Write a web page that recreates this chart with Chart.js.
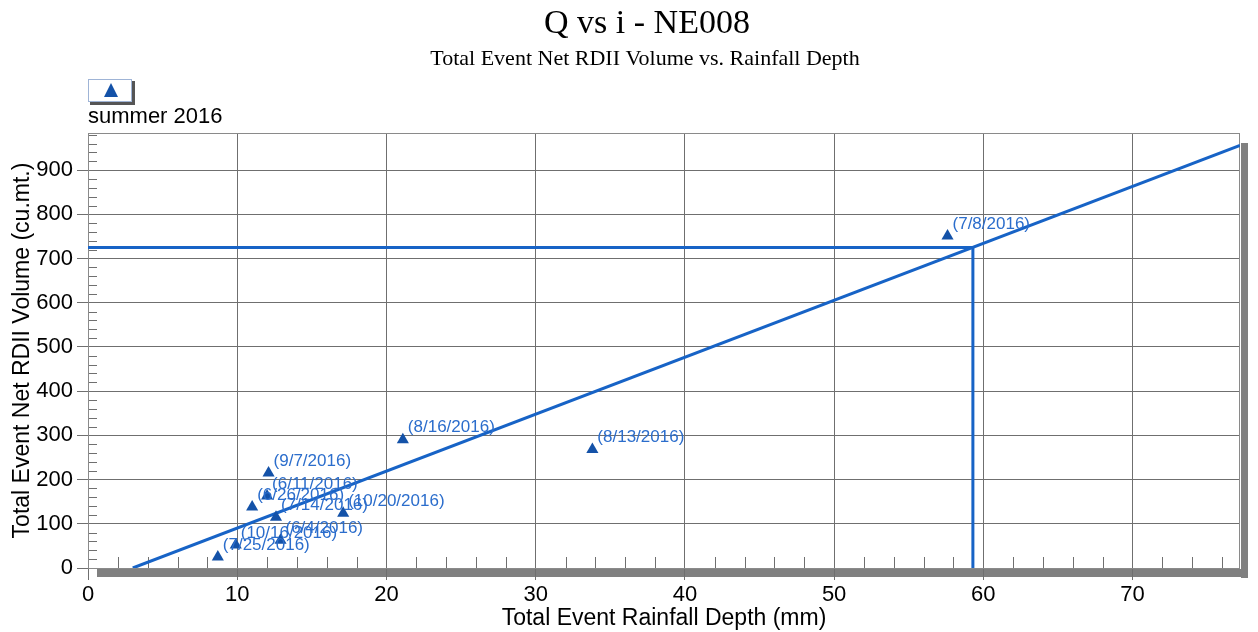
<!DOCTYPE html>
<html>
<head>
<meta charset="utf-8">
<script src="https://cdn.jsdelivr.net/npm/chart.js@4"></script>
<style>
    html, body { margin: 0; padding: 0; background: #fff; }
    #wrap { width: 1258px; height: 632px; }
</style>
</head>
<body>
<div id="wrap"><canvas id="chart1" width="1258" height="632"></canvas></div>
<script>
// event data
const eventLabels = ["(7/8/2016)", "(8/16/2016)", "(8/13/2016)", "(9/7/2016)", "(6/11/2016)", "(6/26/2016)",
    "(7/14/2016)", "(10/20/2016)", "(6/4/2016)", "(10/16/2016)", "(7/25/2016)"];
const rainfallDepth = [57.6, 21.1, 33.8, 12.1, 12.0, 11.0, 12.6, 17.1, 12.9, 9.9, 8.7];
const netVolume = [751, 290, 268, 215, 163, 138, 115, 124, 63, 52, 25];

// fitted line and design point
const fitX = [3.0, 77.2];
const fitY = [0, 956];
const designDepth = 59.3;
const designVolume = 725;

const xTicks = [0, 10, 20, 30, 40, 50, 60, 70];
const yTicks = [0, 100, 200, 300, 400, 500, 600, 700, 800, 900];

const blue = "#1763c6";
const markerBlue = "#1452a8";
const labelBlue = "#2b6dcc";
const gridGray = "#6f6f6f";

const sans = "'Liberation Sans', Arial, sans-serif";
const serif = "'Liberation Serif', 'Times New Roman', serif";

const decorPlugin = {
    id: "decor",
    beforeDraw(chart) {
        const ctx = chart.ctx;
        const a = chart.chartArea;
        ctx.save();
        // drop shadow of the plot frame
        ctx.fillStyle = "#808080";
        ctx.fillRect(a.left + 9, a.bottom + 1, a.right - a.left - 1, 8);
        ctx.fillRect(a.right + 1, a.top + 10, 7, a.bottom - a.top);
        ctx.restore();
    },
    beforeDatasetsDraw(chart) {
        const ctx = chart.ctx;
        const a = chart.chartArea;
        const xs = chart.scales.x, ys = chart.scales.y;
        ctx.save();
        ctx.strokeStyle = gridGray;
        ctx.lineWidth = 1;
        ctx.beginPath();
        for (let v = 2; v < xs.max; v += 2) {
            if (v % 10 === 0) continue;
            const px = Math.round(xs.getPixelForValue(v)) + 0.5;
            ctx.moveTo(px, a.bottom);
            ctx.lineTo(px, a.bottom - 11);
        }
        for (let v = 20; v < ys.max; v += 20) {
            if (v % 100 === 0) continue;
            const py = Math.round(ys.getPixelForValue(v)) + 0.5;
            ctx.moveTo(a.left, py);
            ctx.lineTo(a.left + 9, py);
        }
        ctx.stroke();
        // frame
        ctx.strokeStyle = "#8a8a8a";
        ctx.strokeRect(a.left + 0.5, a.top + 0.5, a.right - a.left - 1, a.bottom - a.top);
        ctx.restore();
    },
    afterDatasetsDraw(chart) {
        const ctx = chart.ctx;
        const meta = chart.getDatasetMeta(0);
        ctx.save();
        ctx.font = "17px " + sans;
        ctx.fillStyle = labelBlue;
        ctx.textAlign = "left";
        ctx.textBaseline = "middle";
        meta.data.forEach((pt, i) => {
            ctx.fillText(eventLabels[i], pt.x + 5, pt.y - 12);
        });
        ctx.restore();
    },
    afterDraw(chart) {
        const ctx = chart.ctx;
        ctx.save();
        // titles
        ctx.fillStyle = "#000";
        ctx.textAlign = "center";
        ctx.textBaseline = "alphabetic";
        ctx.font = "34px " + serif;
        ctx.fillText("Q vs i - NE008", 647, 33);
        ctx.font = "22px " + serif;
        ctx.fillText("Total Event Net RDII Volume vs. Rainfall Depth", 645, 65);

        // legend box
        ctx.fillStyle = "#555";
        ctx.fillRect(90, 81, 45, 24);
        ctx.fillStyle = "#fff";
        ctx.fillRect(88, 79, 44, 23);
        ctx.strokeStyle = "#9fb4d6";
        ctx.lineWidth = 1;
        ctx.strokeRect(88.5, 79.5, 43, 22);
        ctx.fillStyle = markerBlue;
        ctx.beginPath();
        ctx.moveTo(111, 83);
        ctx.lineTo(118, 97);
        ctx.lineTo(104, 97);
        ctx.closePath();
        ctx.fill();

        ctx.fillStyle = "#000";
        ctx.textAlign = "left";
        ctx.textBaseline = "middle";
        ctx.font = "22px " + sans;
        ctx.fillText("summer 2016", 88, 117);
        ctx.restore();
    }
};

const ctx = document.getElementById("chart1").getContext("2d");

new Chart(ctx, {
    type: "scatter",
    data: {
        datasets: [
            {
                label: "summer 2016",
                data: rainfallDepth.map((x, i) => ({ x: x, y: netVolume[i] })),
                pointStyle: "triangle",
                pointRadius: 7,
                backgroundColor: markerBlue,
                borderColor: markerBlue,
                borderWidth: 0
            },
            {
                label: "fit",
                data: fitX.map((x, i) => ({ x: x, y: fitY[i] })),
                showLine: true,
                pointRadius: 0,
                borderColor: blue,
                borderWidth: 3
            },
            {
                label: "design",
                data: [
                    { x: 0, y: designVolume },
                    { x: designDepth, y: designVolume },
                    { x: designDepth, y: 0 }
                ],
                showLine: true,
                pointRadius: 0,
                borderColor: blue,
                borderWidth: 3
            }
        ]
    },
    options: {
        responsive: false,
        animation: false,
        events: [],
        layout: { padding: { left: 0, right: 18, top: 133, bottom: 0 } },
        plugins: {
            legend: { display: false },
            title: { display: false },
            tooltip: { enabled: false }
        },
        scales: {
            x: {
                type: "linear",
                min: 0,
                max: 77.2,
                afterBuildTicks: (scale) => { scale.ticks = xTicks.map(v => ({ value: v })); },
                afterFit: (scale) => { scale.height = 64; },
                grid: { color: gridGray, lineWidth: 1, tickLength: 12, tickColor: gridGray },
                border: { display: false },
                ticks: { color: "#000", font: { family: sans, size: 22 }, padding: 2, maxRotation: 0 },
                title: {
                    display: true,
                    text: "Total Event Rainfall Depth (mm)",
                    color: "#000",
                    font: { family: sans, size: 23 },
                    padding: { top: 0, bottom: 0 }
                }
            },
            y: {
                type: "linear",
                min: 0,
                max: 984,
                afterBuildTicks: (scale) => { scale.ticks = yTicks.map(v => ({ value: v })); },
                afterFit: (scale) => { scale.width = 88; },
                grid: { color: gridGray, lineWidth: 1, tickLength: 11, tickColor: gridGray },
                border: { display: false },
                ticks: { color: "#000", font: { family: sans, size: 22 }, padding: 4 },
                title: {
                    display: true,
                    text: "Total Event Net RDII Volume (cu.mt.)",
                    color: "#000",
                    font: { family: sans, size: 23 },
                    padding: { top: 9, bottom: 0 }
                }
            }
        }
    },
    plugins: [decorPlugin]
});
</script>
</body>
</html>
